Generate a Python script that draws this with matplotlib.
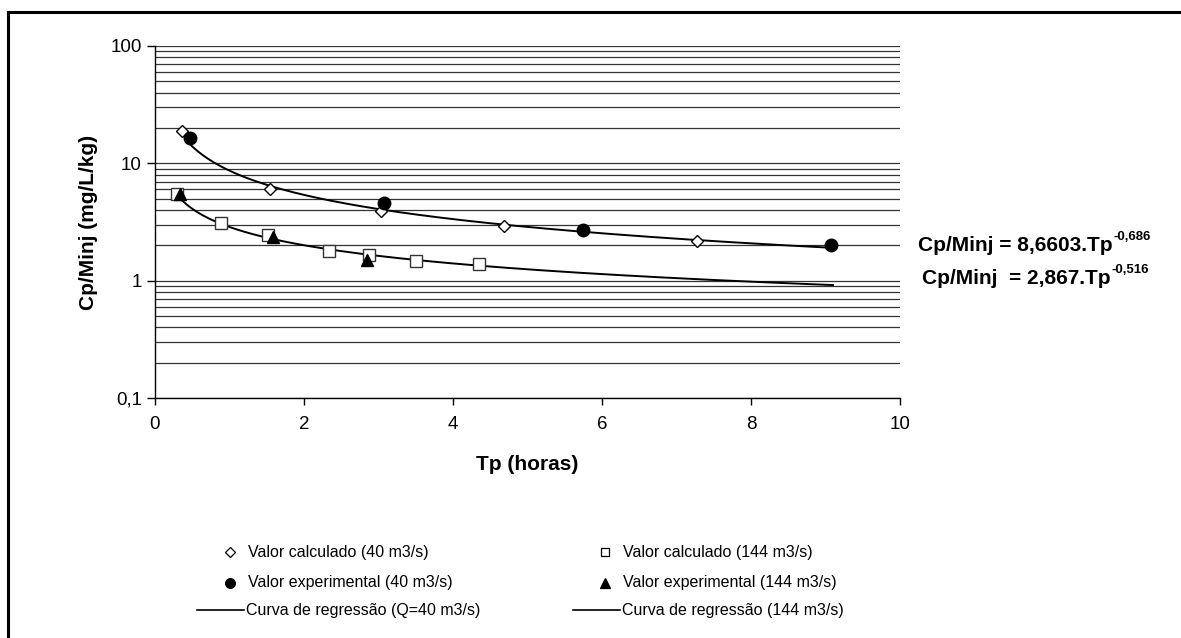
import numpy as np
import matplotlib
matplotlib.use("Agg")
import matplotlib.pyplot as plt
from matplotlib.ticker import LogLocator, FixedLocator, FuncFormatter, NullFormatter

plt.rcParams['font.family'] = ['Liberation Sans', 'DejaVu Sans']

# valores
tp_calc_40 = [0.36, 1.54, 3.04, 4.69, 7.28]
cp_calc_40 = [19.0, 6.0, 3.9, 2.9, 2.18]
tp_exp_40 = [0.47, 3.07, 5.74, 9.08]
cp_exp_40 = [16.5, 4.55, 2.70, 2.0]
tp_calc_144 = [0.29, 0.88, 1.52, 2.34, 2.87, 3.50, 4.35]
cp_calc_144 = [5.45, 3.1, 2.45, 1.78, 1.67, 1.46, 1.38]
tp_exp_144 = [0.34, 1.59, 2.84]
cp_exp_144 = [5.45, 2.37, 1.50]

# curvas de regressao (coeficientes das equacoes mostradas)
coef_40, expo_40, range_40 = 8.6603, -0.686, (0.45, 9.1)
coef_144, expo_144, range_144 = 2.867, -0.516, (0.34, 9.1)

x_ticks = [0, 2, 4, 6, 8, 10]
y_ticks = [0.1, 1, 10, 100]
y_tick_labels = ["0,1", "1", "10", "100"]

W, H = 1181, 638
fig = plt.figure(figsize=(W / 100, H / 100), dpi=100)
ax = fig.add_axes([155 / W, 1 - 398 / H, 745 / W, 352 / H])

ax.set_yscale('log')
ax.set_xlim(0, 10)
ax.set_ylim(0.1, 100)

ax.yaxis.set_major_locator(FixedLocator(y_ticks))
ax.yaxis.set_major_formatter(FuncFormatter(lambda v, p: y_tick_labels[y_ticks.index(v)] if v in y_ticks else ""))
ax.yaxis.set_minor_locator(LogLocator(base=10, subs=np.arange(2, 10)))
ax.yaxis.set_minor_formatter(NullFormatter())
ax.xaxis.set_major_locator(FixedLocator(x_ticks))

ax.grid(True, which='both', axis='y', color='#333333', lw=0.9)
ax.set_axisbelow(True)
for s in ['top', 'right']:
    ax.spines[s].set_visible(False)
for s in ['left', 'bottom']:
    ax.spines[s].set_linewidth(1.0)
ax.tick_params(axis='y', which='major', direction='out', length=6, width=1, pad=3.5, labelsize=13.5)
ax.tick_params(axis='y', which='minor', length=0)
ax.tick_params(axis='x', direction='out', length=5, width=1, pad=8, labelsize=13.5)

for coef, expo, rng in [(coef_40, expo_40, range_40), (coef_144, expo_144, range_144)]:
    xx = np.linspace(rng[0], rng[1], 300)
    ax.plot(xx, coef * xx ** expo, color='black', lw=1.4, zorder=3)

ax.plot(tp_calc_40, cp_calc_40, ls='none', marker='D', ms=6.5, mfc='white', mec='black', mew=1.0, zorder=4)
ax.plot(tp_exp_40, cp_exp_40, ls='none', marker='o', ms=9, mfc='black', mec='black', zorder=5)
ax.plot(tp_calc_144, cp_calc_144, ls='none', marker='s', ms=8, mfc='white', mec='#333333', mew=1.0, zorder=4)
ax.plot(tp_exp_144, cp_exp_144, ls='none', marker='^', ms=9, mfc='black', mec='black', zorder=5)

fig.text(88 / W, 1 - 222 / H, 'Cp/Minj (mg/L/kg)', rotation=90, ha='center', va='center',
         fontsize=15, fontweight='bold')
fig.text(527 / W, 1 - 465 / H, 'Tp (horas)', ha='center', va='center', fontsize=15, fontweight='bold')

# camada em pixels para legenda, equacoes e moldura
lax = fig.add_axes([0, 0, 1, 1], zorder=10)
lax.set_xlim(0, W)
lax.set_ylim(H, 0)
lax.axis('off')
lax.patch.set_alpha(0)

lax.plot([8, 8], [12, H + 5], color='black', lw=2.2, clip_on=False)
lax.plot([8, W + 5], [12, 12], color='black', lw=2.2, clip_on=False)

leg_font = dict(fontsize=11.5, va='center', ha='left')
legend_items = [
    (230, 552, 'D', 5, 'white', 'Valor calculado (40 m3/s)'),
    (230, 583, 'o', 7, 'black', 'Valor experimental (40 m3/s)'),
    (605, 552, 's', 6, 'white', 'Valor calculado (144 m3/s)'),
    (605, 583, '^', 7, 'black', 'Valor experimental (144 m3/s)'),
]
for mx, my, mk, ms, fc, label in legend_items:
    lax.plot([mx], [my], marker=mk, ms=ms, mfc=fc, mec='black', mew=0.9, ls='none')
    lax.text(mx + 18, my, label, **leg_font)
for x0, label in [(197, 'Curva de regressão (Q=40 m3/s)'), (573, 'Curva de regressão (144 m3/s)')]:
    lax.plot([x0, x0 + 47], [610, 610], color='black', lw=1.2)
    lax.text(x0 + 49, 610, label, **leg_font)

fig.canvas.draw()
renderer = fig.canvas.get_renderer()
inv = lax.transData.inverted()
for x0, y0, main, sup in [(918, 251, 'Cp/Minj = 8,6603.Tp', '-0,686'),
                          (922, 284, 'Cp/Minj  = 2,867.Tp', '-0,516')]:
    t = lax.text(x0, y0, main, fontsize=15, fontweight='bold', ha='left', va='baseline')
    bb = t.get_window_extent(renderer)
    xr = inv.transform((bb.x1, bb.y0))[0]
    lax.text(xr + 1, y0 - 11, sup, fontsize=9.5, fontweight='bold', ha='left', va='baseline')

fig.savefig('out.png', dpi=100)
